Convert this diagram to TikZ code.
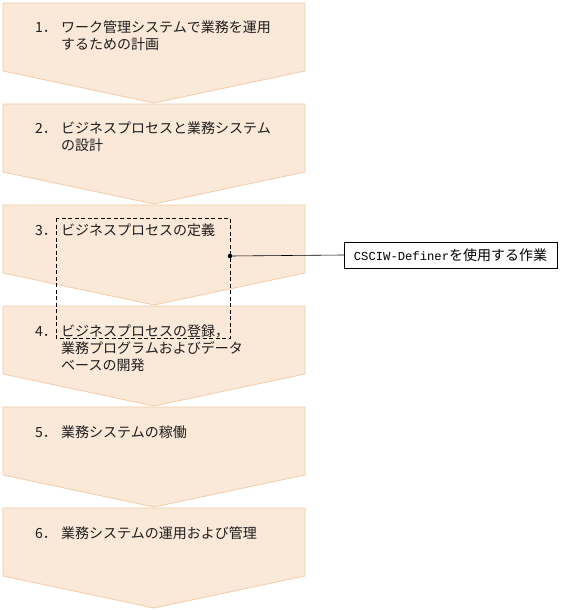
\documentclass[tikz,border=0pt]{standalone}
\usepackage{fontspec}
\setmainfont{Noto Sans CJK JP}
\setmonofont{Liberation Mono}
\usetikzlibrary{positioning}

\definecolor{peach}{HTML}{FAE8D8}
\definecolor{peachline}{HTML}{F2CDA8}
\definecolor{ink}{HTML}{1E1E1E}

\begin{document}
\begin{tikzpicture}
[x=1pt,y=-1pt,
  flow/.style={draw=peachline,fill=peach,line width=0.8pt},
  num/.style={anchor=base west,inner sep=0pt,text=ink,font=\fontsize{14}{17}\selectfont},
  stepname/.style={num,align=left},
  tool/.style={draw=black,thin,fill=white,minimum width=213pt,minimum height=26pt,
    inner sep=0pt,font=\fontsize{14}{17}\selectfont}]

\useasboundingbox (0,0) rectangle (561,612);

\draw [flow] (3,3) -- (305,3) -- (305,71) -- (154,103) -- (3,71) -- cycle;
\draw [flow] (3,104) -- (305,104) -- (305,172) -- (154,204) -- (3,172) -- cycle;
\draw [flow] (3,205) -- (305,205) -- (305,273) -- (154,305) -- (3,273) -- cycle;
\draw [flow] (3,306) -- (305,306) -- (305,374) -- (154,406) -- (3,374) -- cycle;
\draw [flow] (3,407) -- (305,407) -- (305,475) -- (154,507) -- (3,475) -- cycle;
\draw [flow] (3,508) -- (305,508) -- (305,576) -- (154,608) -- (3,576) -- cycle;

% the base of a text with several lines is its last line
\node (n1) [num] at (35,33) {1．};
\node (s1) [stepname] at (61,50) {ワーク管理システムで業務を運用\\するための計画};
\node (n2) [num] at (35,134) {2．};
\node (s2) [stepname] at (61,151) {ビジネスプロセスと業務システム\\の設計};
\node (n3) [num] at (35,235) {3．};
\node (s3) [stepname] at (61,235) {ビジネスプロセスの定義};
\node (n4) [num] at (35,336) {4．};
\node (s4) [stepname] at (61,370) {ビジネスプロセスの登録，\\業務プログラムおよびデータ\\ベースの開発};
\node (n5) [num] at (35,437) {5．};
\node (s5) [stepname] at (61,437) {業務システムの稼働};
\node (n6) [num] at (35,538) {6．};
\node (s6) [stepname] at (61,538) {業務システムの運用および管理};

% work done with the definer
\draw [dashed,line width=0.9pt,dash pattern=on 4pt off 2.5pt] (56,218) rectangle (230,338);
\coordinate (dot) at (230,256);
\node (definer) [tool] at (450.5,255) {{\ttfamily\fontsize{12.2}{14}\selectfont CSCIW-Definer}を使用する作業};
\draw [line width=0.6pt] (dot) -- (definer.west);
\fill (dot) circle (2.2pt);
\end{tikzpicture}
\end{document}
